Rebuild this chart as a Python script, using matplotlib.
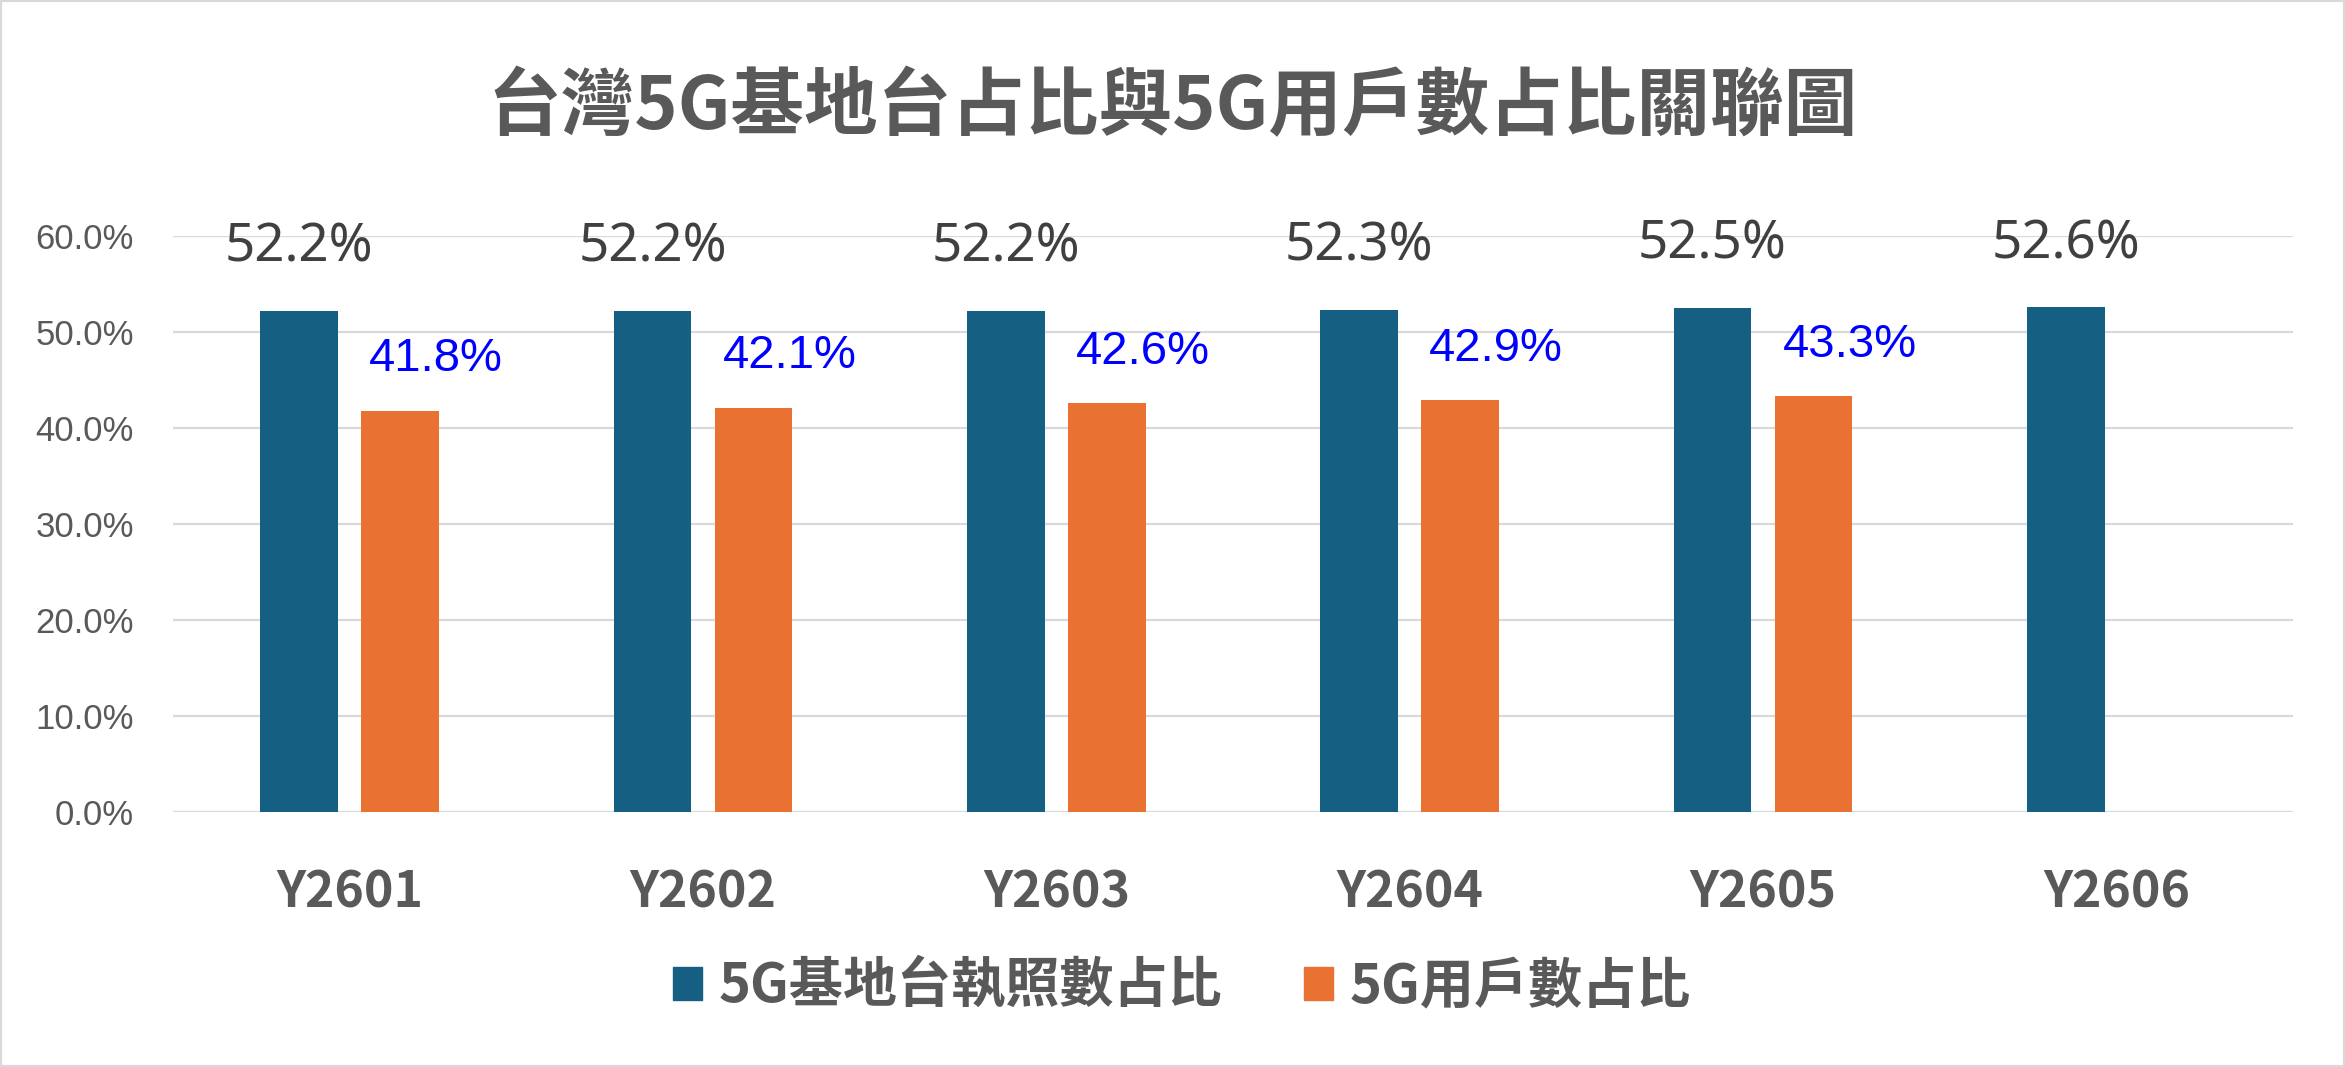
import numpy as np
import matplotlib
matplotlib.use('Agg')
import matplotlib.pyplot as plt
from matplotlib.patches import Patch, Rectangle

# --- Data ---
categories = ['Y2601', 'Y2602', 'Y2603', 'Y2604', 'Y2605', 'Y2606']
station_share = [52.2, 52.2, 52.2, 52.3, 52.5, 52.6]      # 5G基地台執照數占比 (%)
user_share = [41.8, 42.1, 42.6, 42.9, 43.3, np.nan]       # 5G用戶數占比 (%)
y_ticks = [0, 10, 20, 30, 40, 50, 60]

TITLE = '台灣5G基地台占比與5G用戶數占比關聯圖'
LABEL_STATION = '5G基地台執照數占比'
LABEL_USER = '5G用戶數占比'

# --- Style ---
BLUE = '#156082'
ORANGE = '#E97132'
GRID = '#d9d9d9'
TEXT = '#595959'
CJK = ['Noto Sans CJK TC', 'DejaVu Sans']

W, H = 2345, 1067
fig = plt.figure(figsize=(W / 100, H / 100), dpi=100)
fig.patches.append(Rectangle((0, 0), 1, 1, transform=fig.transFigure,
                             fill=False, edgecolor=GRID, linewidth=3))

ax = fig.add_axes([173 / W, 1 - 812 / H, (2293 - 173) / W, (812 - 236) / H])

x = np.arange(len(categories))
bw = 0.22
off = 0.143
ax.bar(x - off, station_share, width=bw, color=BLUE, zorder=3)
ax.bar(x + off, user_share, width=bw, color=ORANGE, zorder=3)

# data labels
for xi, v in zip(x, station_share):
    ax.annotate(f'{v:.1f}%', xy=(xi - off, v), xytext=(0, 45),
                textcoords='offset points', ha='center', va='center',
                fontsize=38, color='#404040', family='Noto Sans')
for xi, v in zip(x, user_share):
    if np.isnan(v):
        continue
    ax.annotate(f'{v:.1f}%', xy=(xi + off, v), xytext=(26, 37),
                textcoords='offset points', ha='center', va='center',
                fontsize=34, color='#0000ff', family='Liberation Sans')

ax.set_xlim(-0.5, len(categories) - 0.5)
ax.set_ylim(0, 60)
ax.set_yticks(y_ticks)
ax.set_yticklabels([f'{t:.1f}%' for t in y_ticks], family='Liberation Sans',
                   fontsize=25, color=TEXT)
ax.set_xticks(x)
ax.set_xticklabels(categories, family=CJK, fontsize=36, fontweight='bold',
                   color=TEXT)
ax.tick_params(axis='y', length=0, pad=28)
ax.tick_params(axis='x', length=0, pad=40)

ax.grid(axis='y', color=GRID, linewidth=1.6, zorder=0)
for s in ax.spines.values():
    s.set_visible(False)

fig.text(0.5, 1 - 108 / H, TITLE, ha='center', va='center',
         family=CJK, fontsize=53, fontweight='bold', color=TEXT)

handles = [Patch(color=BLUE, label=LABEL_STATION),
           Patch(color=ORANGE, label=LABEL_USER)]
leg = fig.legend(handles=handles, loc='center', bbox_to_anchor=(0.504, 1 - 987 / H),
                 ncol=2, frameon=False, handlelength=0.55, handleheight=0.55,
                 handletextpad=0.3, columnspacing=1.5,
                 prop={'family': CJK, 'size': 39, 'weight': 'bold'})
for t in leg.get_texts():
    t.set_color(TEXT)

fig.savefig('out.png', dpi=100)
